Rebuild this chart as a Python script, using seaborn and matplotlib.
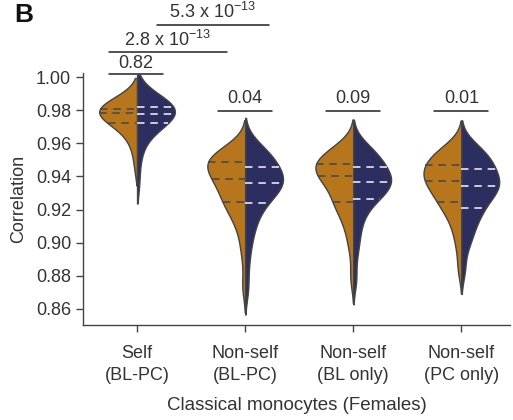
import numpy as np
import pandas as pd
import matplotlib
matplotlib.use("Agg")
import matplotlib.pyplot as plt
import seaborn as sns

# ---- data ----
groups = ["Self\n(BL-PC)", "Non-self\n(BL-PC)", "Non-self\n(BL only)", "Non-self\n(PC only)"]
halves = ["BL", "PC"]

self_bl = [0.945, 0.954, 0.960, 0.964, 0.966, 0.969, 0.971, 0.972, 0.973, 0.974,
           0.975, 0.976, 0.977, 0.978, 0.978, 0.979, 0.979, 0.980, 0.980, 0.980,
           0.980, 0.981, 0.981, 0.982, 0.983, 0.984, 0.985, 0.986, 0.987, 0.989]
self_pc = [0.936, 0.950, 0.958, 0.963, 0.966, 0.969, 0.971, 0.972, 0.973, 0.974,
           0.975, 0.976, 0.977, 0.977, 0.977, 0.978, 0.979, 0.980, 0.981, 0.981,
           0.982, 0.982, 0.982, 0.983, 0.984, 0.985, 0.986, 0.987, 0.988, 0.989]
nsbp_bl = [0.874, 0.893, 0.904, 0.911, 0.916, 0.919, 0.922, 0.924, 0.926, 0.928,
           0.930, 0.933, 0.935, 0.937, 0.938, 0.939, 0.941, 0.943, 0.945, 0.946,
           0.947, 0.948, 0.949, 0.950, 0.951, 0.952, 0.953, 0.954, 0.956, 0.958]
nsbp_pc = [0.873, 0.889, 0.900, 0.907, 0.912, 0.917, 0.921, 0.923, 0.926, 0.928,
           0.930, 0.932, 0.934, 0.935, 0.936, 0.936, 0.937, 0.938, 0.939, 0.941,
           0.943, 0.945, 0.946, 0.948, 0.950, 0.951, 0.953, 0.955, 0.957, 0.959]
nsbl_bl = [0.879, 0.896, 0.905, 0.911, 0.916, 0.920, 0.922, 0.924, 0.926, 0.929,
           0.931, 0.934, 0.936, 0.938, 0.939, 0.941, 0.942, 0.943, 0.944, 0.945,
           0.946, 0.947, 0.948, 0.950, 0.951, 0.952, 0.953, 0.955, 0.957, 0.959]
nsbl_pc = [0.878, 0.894, 0.903, 0.910, 0.916, 0.920, 0.924, 0.926, 0.928, 0.930,
           0.931, 0.932, 0.934, 0.935, 0.936, 0.937, 0.938, 0.939, 0.940, 0.941,
           0.943, 0.945, 0.946, 0.948, 0.950, 0.951, 0.953, 0.955, 0.957, 0.959]
nspc_bl = [0.884, 0.897, 0.905, 0.911, 0.916, 0.919, 0.922, 0.924, 0.926, 0.928,
           0.930, 0.932, 0.934, 0.936, 0.937, 0.938, 0.939, 0.940, 0.941, 0.943,
           0.945, 0.946, 0.947, 0.949, 0.950, 0.951, 0.953, 0.955, 0.957, 0.959]
nspc_pc = [0.884, 0.898, 0.903, 0.908, 0.912, 0.916, 0.919, 0.920, 0.923, 0.926,
           0.928, 0.930, 0.932, 0.933, 0.934, 0.934, 0.935, 0.937, 0.939, 0.941,
           0.943, 0.944, 0.945, 0.947, 0.949, 0.951, 0.953, 0.955, 0.957, 0.959]

pvals_adjacent = ["0.82", "0.04", "0.09", "0.01"]
pval_self_vs_ns1 = "2.8 x 10$^{\\mathregular{-13}}$"
pval_self_vs_ns2 = "5.3 x 10$^{\\mathregular{-13}}$"

series = {
    (groups[0], "BL"): self_bl, (groups[0], "PC"): self_pc,
    (groups[1], "BL"): nsbp_bl, (groups[1], "PC"): nsbp_pc,
    (groups[2], "BL"): nsbl_bl, (groups[2], "PC"): nsbl_pc,
    (groups[3], "BL"): nspc_bl, (groups[3], "PC"): nspc_pc,
}
rows = []
for (g, h), vals in series.items():
    for v in vals:
        rows.append({"group": g, "half": h, "value": v})
df = pd.DataFrame(rows)

# ---- style ----
sns.set_style("ticks")
plt.rcParams["font.family"] = ["Liberation Sans", "DejaVu Sans"]
plt.rcParams["mathtext.fontset"] = "custom"
plt.rcParams["mathtext.rm"] = "Liberation Sans"
plt.rcParams["mathtext.it"] = "Liberation Sans:italic"
plt.rcParams["mathtext.bf"] = "Liberation Sans:bold"

orange = "#B7761C"
navy = "#2D2E60"
text_c = "#333333"

fig = plt.figure(figsize=(5.13, 4.2), dpi=100)
ax = fig.add_axes([83 / 513, 95 / 420, (510 - 83) / 513, (325 - 73) / 420])

kde_opts = {groups[0]: (1.4, 1.5), groups[1]: (0.8, 2.0),
            groups[2]: (0.8, 2.0), groups[3]: (0.8, 2.0)}
for g in groups:
    sub = df[df["group"] == g]
    bw, cut = kde_opts[g]
    sns.violinplot(data=sub, x="group", y="value", hue="half", order=groups,
                   hue_order=halves, split=True, inner="quart",
                   palette=[orange, navy], linecolor="#444444", linewidth=1.0,
                   density_norm="width", width=0.70, cut=cut, bw_adjust=bw,
                   saturation=1, legend=False, ax=ax)

# inner quartile lines: dark in left half, light in right half
for ln in ax.lines:
    xd = np.asarray(ln.get_xdata(), dtype=float)
    if xd.size == 0:
        continue
    c = round(xd.mean())
    if xd.mean() < c:
        ln.set_color("#4a4a4a")
    else:
        ln.set_color("#e6e6f0")
    ln.set_linestyle((0, (4.5, 3.5)))
    ln.set_linewidth(1.2)

ax.set_ylim(0.8503, 1.0025)
ax.set_xlim(-0.5, 3.45)
ax.set_yticks([0.86, 0.88, 0.90, 0.92, 0.94, 0.96, 0.98, 1.00])
ax.set_yticklabels([f"{t:.2f}" for t in ax.get_yticks()])
ax.set_xticks(range(len(groups)))
ax.set_xticklabels(groups)
ax.tick_params(axis="both", labelsize=13, colors="#444444", labelcolor=text_c,
               length=5, width=1)
ax.tick_params(axis="x", pad=9.5)
for lab in ax.get_xticklabels():
    lab.set_linespacing(1.4)
ax.set_ylabel("Correlation", fontsize=13, color=text_c, labelpad=6)
ax.set_xlabel("Classical monocytes (Females)", fontsize=13.5, color=text_c, labelpad=9)
sns.despine(ax=ax)
for s in ["left", "bottom"]:
    ax.spines[s].set_color("#444444")
    ax.spines[s].set_linewidth(1)

# ---- significance brackets ----
def bracket(x0, x1, y, label, ty):
    ax.plot([x0, x1], [y, y], color="#222222", lw=1.1, clip_on=False)
    ax.text((x0 + x1) / 2, ty, label, ha="center", va="center",
            fontsize=13, color=text_c, clip_on=False)

for i, p in enumerate(pvals_adjacent):
    if i == 0:
        bracket(i - 0.26, i + 0.24, 1.0018, p, 1.0085)
    else:
        bracket(i - 0.25, i + 0.25, 0.9795, p, 0.9870)
bracket(-0.26, 0.83, 1.0151, pval_self_vs_ns1, 1.0225)
bracket(0.18, 1.22, 1.0314, pval_self_vs_ns2, 1.0392)

fig.text(24 / 513, 1 - 15 / 420, "B", fontsize=19, fontweight="bold",
         ha="center", va="center", color="#111111")

fig.savefig("out.png", dpi=100)
